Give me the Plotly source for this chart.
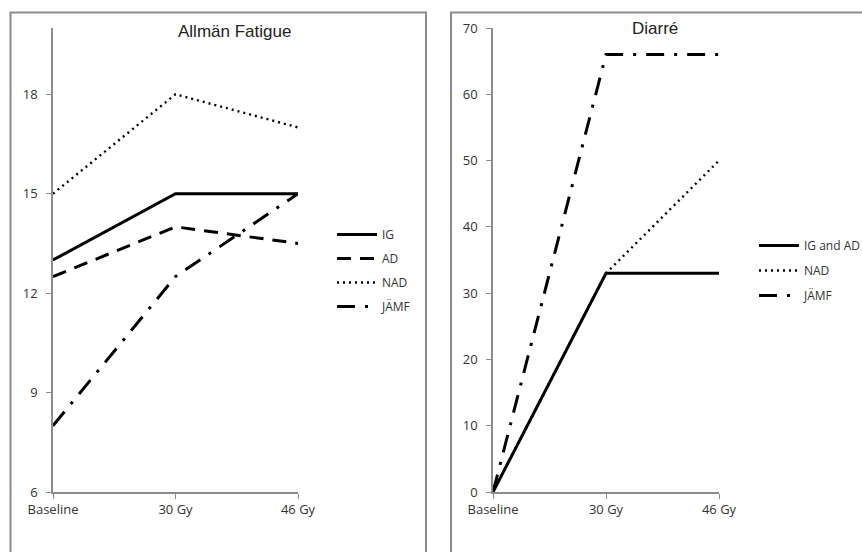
import plotly.graph_objects as go

W, H = 862, 552

categories = ["Baseline", "30 Gy", "46 Gy"]

# Left panel: Allmän Fatigue
fatigue_ig = [13, 15, 15]
fatigue_ad = [12.5, 14, 13.5]
fatigue_nad = [15, 18, 17]
fatigue_jamf = [8, 12.5, 15]
fatigue_ticks = [6, 9, 12, 15, 18]

# Right panel: Diarré
diarre_ig_ad = [0, 33, 33]
diarre_nad = [0, 33, 50]
diarre_jamf = [0, 66, 66]
diarre_ticks = [0, 10, 20, 30, 40, 50, 60, 70]

def px(x):
    return x / W

def py(y):
    return (H - y) / H

fig = go.Figure()

LW = 3
styles = {
    "solid": dict(color="black", width=LW, dash="solid"),
    "dash": dict(color="black", width=LW, dash="14px,9px"),
    "dot": dict(color="black", width=2.4, dash="2px,4px"),
    "dashdot": dict(color="black", width=LW, dash="18px,10px,3px,10px"),
}

left = [("IG", fatigue_ig, "solid"), ("AD", fatigue_ad, "dash"),
        ("NAD", fatigue_nad, "dot"), ("JÄMF", fatigue_jamf, "dashdot")]
for i, (name, vals, st) in enumerate(left):
    fig.add_trace(go.Scatter(x=categories, y=vals, mode="lines", name=name,
                             line=styles[st], xaxis="x", yaxis="y",
                             legend="legend", legendgroup="L%d" % i))

right = [("IG and AD", diarre_ig_ad, "solid"), ("NAD", diarre_nad, "dot"),
         ("JÄMF", diarre_jamf, "dashdot")]
order = [1, 0, 2]
for i in order:
    name, vals, st = right[i]
    fig.add_trace(go.Scatter(x=categories, y=vals, mode="lines", name=name,
                             line=styles[st], xaxis="x2", yaxis="y2",
                             legend="legend2", legendgroup="R%d" % i,
                             legendrank=i))

axis_font = dict(family="Open Sans, Liberation Sans, sans-serif", size=13, color="#333333")
axis_common = dict(showgrid=False, zeroline=False, showline=True,
                   linecolor="#8c8c8c", linewidth=1.5, ticks="outside",
                   tickcolor="#8c8c8c", ticklen=5, tickfont=axis_font,
                   fixedrange=True, automargin=False)

ydom = [py(492), py(28)]
leg_font = dict(family="Open Sans, Liberation Sans, sans-serif", size=12, color="#333333")

fig.update_layout(
    template="none",
    width=W, height=H,
    margin=dict(l=0, r=0, t=0, b=0, pad=0, autoexpand=False),
    paper_bgcolor="white", plot_bgcolor="white",
    showlegend=True,
    xaxis=dict(domain=[px(53), px(298)], range=[0, 2], anchor="y",
               type="category", **axis_common),
    yaxis=dict(domain=ydom, range=[6, 20], anchor="x", tickvals=fatigue_ticks,
               ticklabelstandoff=6, **axis_common),
    xaxis2=dict(domain=[px(493), px(719)], range=[0, 2], anchor="y2",
                type="category", **axis_common),
    yaxis2=dict(domain=ydom, range=[0, 70], anchor="x2", tickvals=diarre_ticks,
                ticklabelstandoff=6, **axis_common),
    legend=dict(x=px(332), y=py(220), xanchor="left", yanchor="top",
                font=leg_font, traceorder="grouped", tracegroupgap=5,
                itemwidth=40, bgcolor="rgba(0,0,0,0)", borderwidth=0),
    legend2=dict(x=px(754), y=py(231), xanchor="left", yanchor="top",
                 font=leg_font, traceorder="grouped", tracegroupgap=6,
                 itemwidth=40, bgcolor="rgba(0,0,0,0)", borderwidth=0),
    annotations=[
        dict(text="Allmän Fatigue", x=px(234), y=py(31), xref="paper", yref="paper",
             xanchor="center", yanchor="middle", showarrow=False,
             font=dict(family="Liberation Sans, Arial, sans-serif", size=17, color="#222222")),
        dict(text="Diarré", x=px(655), y=py(28), xref="paper", yref="paper",
             xanchor="center", yanchor="middle", showarrow=False,
             font=dict(family="Liberation Sans, Arial, sans-serif", size=17, color="#222222")),
    ],
    shapes=[
        dict(type="rect", xref="paper", yref="paper", x0=px(10.5), x1=px(426),
             y0=py(570), y1=py(12.5), line=dict(color="#8c8c8c", width=2)),
        dict(type="rect", xref="paper", yref="paper", x0=px(451), x1=px(880),
             y0=py(570), y1=py(12.5), line=dict(color="#8c8c8c", width=2)),
    ],
)

fig.write_html("out.html", config={"displayModeBar": False},
               post_script="document.body.style.margin='0';document.body.style.overflow='hidden';")
